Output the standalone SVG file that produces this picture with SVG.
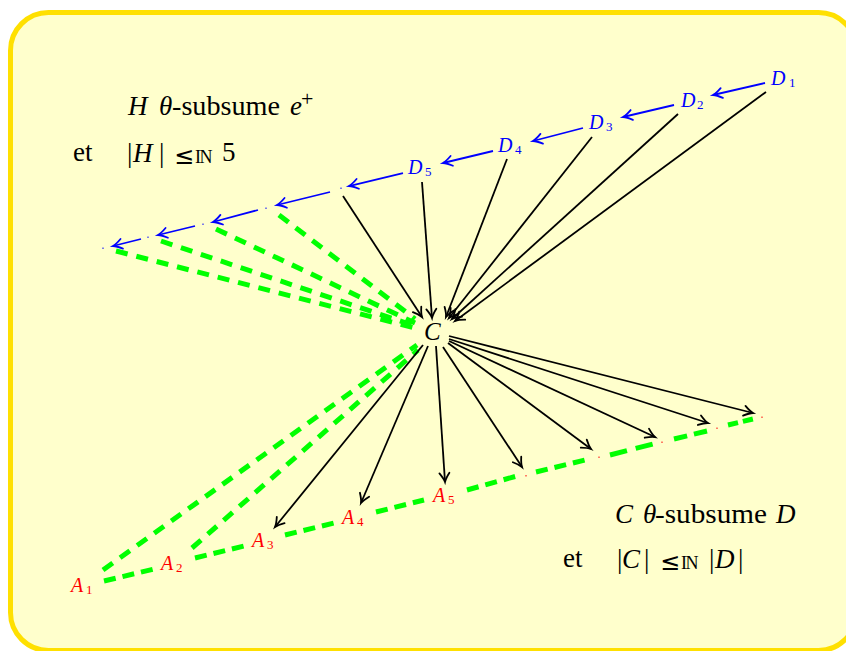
<svg xmlns="http://www.w3.org/2000/svg" width="846" height="651" viewBox="0 0 846 651">
<style>
.t{font-family:"Liberation Serif","DejaVu Serif",serif;fill:#000}
.i{font-style:italic}
.big{font-size:27px}
.le{font-family:"Noto Sans","DejaVu Sans",sans-serif;font-size:24px}
.nn{font-family:"Liberation Serif","DejaVu Serif",serif;font-size:18px;letter-spacing:-1.5px}
.blue{fill:#0000ff}
.red{fill:#ff0000}
.lbl{font-size:20px}
.sub{font-size:13px;font-style:normal}
.ar{fill:none;stroke-width:1.8}
.bk{stroke:#000;marker-end:url(#ak)}
.bl{stroke:#0000ff;marker-end:url(#ab)}
.gr{fill:none;stroke:#00ff00;stroke-width:5}
.ch{stroke-dasharray:12 7}
.lg{stroke-dasharray:12 9}
</style>
<defs>
<marker id="ak" markerUnits="userSpaceOnUse" orient="auto" refX="0" refY="0" markerWidth="20" markerHeight="20" viewBox="-10 -10 20 20" overflow="visible">
<path d="M-9,-5 Q-3.5,-1 0,0 Q-3.5,1 -9,5" fill="none" stroke="#000" stroke-width="1.8" stroke-linecap="round"/>
</marker>
<marker id="ab" markerUnits="userSpaceOnUse" orient="auto" refX="0" refY="0" markerWidth="20" markerHeight="20" viewBox="-10 -10 20 20" overflow="visible">
<path d="M-9,-5 Q-3.5,-1 0,0 Q-3.5,1 -9,5" fill="none" stroke="#0000ff" stroke-width="1.8" stroke-linecap="round"/>
</marker>
</defs>
<rect x="10.5" y="12.5" width="846" height="638" rx="38" ry="38" fill="#ffffcc" stroke="#ffe000" stroke-width="5"/>

<g id="connectors">
<!-- blue chain -->
<line class="ar bl" x1="765" y1="83" x2="713" y2="95"/>
<line class="ar bl" x1="674" y1="105" x2="623" y2="117"/>
<line class="ar bl" x1="583" y1="128" x2="533" y2="141"/>
<line class="ar bl" x1="493" y1="151" x2="443" y2="163"/>
<line class="ar bl" x1="403" y1="173" x2="349" y2="186"/>
<line class="ar bl" x1="330" y1="192" x2="277" y2="205"/>
<line class="ar bl" x1="258" y1="210" x2="213" y2="222"/>
<line class="ar bl" x1="195" y1="226" x2="158" y2="235"/>
<line class="ar bl" x1="141" y1="239" x2="113" y2="246"/>
<!-- black arrows into C -->
<line class="ar bk" x1="343" y1="196" x2="422" y2="317"/>
<line class="ar bk" x1="422" y1="182" x2="432" y2="318"/>
<line class="ar bk" x1="507" y1="159" x2="446" y2="317"/>
<line class="ar bk" x1="592" y1="137" x2="449" y2="318"/>
<line class="ar bk" x1="678" y1="114" x2="452" y2="319"/>
<line class="ar bk" x1="766" y1="92" x2="455" y2="321"/>
<!-- green dashed into C from top-left points -->
<line class="gr lg" x1="279" y1="215" x2="415" y2="319"/>
<line class="gr lg" x1="216" y1="229" x2="415" y2="323"/>
<line class="gr lg" x1="161" y1="241" x2="415" y2="326"/>
<line class="gr lg" x1="116" y1="251" x2="415" y2="328"/>
<!-- green dashed from A1, A2 to C -->
<line class="gr lg" x1="103" y1="570" x2="417" y2="345"/>
<line class="gr lg" x1="192" y1="548" x2="418" y2="350"/>
<!-- black arrows out of C -->
<line class="ar bk" x1="423" y1="345" x2="275" y2="527"/>
<line class="ar bk" x1="428" y1="346" x2="361" y2="503"/>
<line class="ar bk" x1="436" y1="346" x2="445" y2="482"/>
<line class="ar bk" x1="443" y1="347" x2="522" y2="467"/>
<line class="ar bk" x1="448" y1="343" x2="591" y2="449"/>
<line class="ar bk" x1="449" y1="341" x2="655" y2="437"/>
<line class="ar bk" x1="449" y1="339" x2="708" y2="423"/>
<line class="ar bk" x1="449" y1="336" x2="753" y2="413"/>
<!-- green dashed chain at bottom -->
<line class="gr ch" x1="104" y1="581" x2="154" y2="569"/>
<line class="gr ch" x1="195" y1="558" x2="244" y2="546"/>
<line class="gr ch" x1="285" y1="535" x2="334" y2="523"/>
<line class="gr ch" x1="376" y1="512" x2="424" y2="500"/>
<line class="gr ch" x1="467" y1="490" x2="517" y2="476"/>
<line class="gr ch" x1="536" y1="472" x2="589" y2="459"/>
<line class="gr" stroke-dasharray="17.5 9" x1="610" y1="455" x2="653" y2="444"/>
<line class="gr" stroke-dasharray="13.5 7" x1="674" y1="439" x2="707" y2="431"/>
<line class="gr" stroke-dasharray="10.3 5" x1="728" y1="425" x2="753" y2="419"/>
</g>

<g id="D1"><text class="t i blue lbl" x="771" y="85">D</text><text class="t blue sub" x="789" y="87">1</text></g>
<g id="D2"><text class="t i blue lbl" x="681" y="107">D</text><text class="t blue sub" x="697" y="109">2</text></g>
<g id="D3"><text class="t i blue lbl" x="589" y="129">D</text><text class="t blue sub" x="606" y="131">3</text></g>
<g id="D4"><text class="t i blue lbl" x="498" y="152">D</text><text class="t blue sub" x="515" y="154">4</text></g>
<g id="D5"><text class="t i blue lbl" x="408" y="174">D</text><text class="t blue sub" x="425" y="176">5</text></g>
<g id="P6"><rect x="340.5" y="187.5" width="1" height="1.5" fill="#0000ff"/></g>
<g id="P7"><rect x="265.5" y="207.5" width="1" height="1.5" fill="#0000ff"/></g>
<g id="P8"><rect x="202.5" y="223.5" width="1" height="1.5" fill="#0000ff"/></g>
<g id="P9"><rect x="147.5" y="236.5" width="1" height="1.5" fill="#0000ff"/></g>
<g id="P10"><rect x="102.5" y="247.5" width="1" height="1.5" fill="#0000ff"/></g>

<g id="C"><text class="t i" x="424" y="340" font-size="25" fill="#222">C</text></g>

<g id="A1"><text class="t i red lbl" x="71" y="592">A</text><text class="t red sub" x="86" y="594">1</text></g>
<g id="A2"><text class="t i red lbl" x="161" y="570">A</text><text class="t red sub" x="176" y="572">2</text></g>
<g id="A3"><text class="t i red lbl" x="252" y="547">A</text><text class="t red sub" x="267" y="549">3</text></g>
<g id="A4"><text class="t i red lbl" x="342" y="524">A</text><text class="t red sub" x="357" y="526">4</text></g>
<g id="A5"><text class="t i red lbl" x="433" y="502">A</text><text class="t red sub" x="448" y="504">5</text></g>
<g id="Q1"><rect x="525.5" y="475" width="1" height="1.5" fill="#ff0000"/></g>
<g id="Q2"><rect x="598.5" y="456.5" width="1" height="1.5" fill="#ff0000"/></g>
<g id="Q3"><rect x="661.5" y="441.5" width="1" height="1.5" fill="#ff0000"/></g>
<g id="Q4"><rect x="716.5" y="427.5" width="1" height="1.5" fill="#ff0000"/></g>
<g id="Q5"><rect x="761.5" y="416.5" width="1" height="1.5" fill="#ff0000"/></g>

<g id="text-H">
<text class="t big" y="115"><tspan class="i" x="128">H</tspan><tspan class="i" x="159">θ</tspan><tspan x="172" textLength="108" lengthAdjust="spacingAndGlyphs">-subsume</tspan><tspan class="i" x="290">e</tspan></text>
<text class="t" x="301" y="106" font-size="22">+</text>
<text class="t big" x="73" y="161">et</text>
<text class="t big" y="162" font-size="29"><tspan x="127">|</tspan><tspan class="i" x="133" font-size="27">H</tspan><tspan x="159">|</tspan><tspan class="le" x="174" y="164">≤</tspan><tspan class="nn" x="195" y="163">IN</tspan><tspan x="222" y="161" font-size="27">5</tspan></text>
</g>

<g id="text-C">
<text class="t big" y="523"><tspan class="i" x="615">C</tspan><tspan class="i" x="643">θ</tspan><tspan x="655" textLength="112" lengthAdjust="spacingAndGlyphs">-subsume</tspan><tspan class="i" x="776">D</tspan></text>
<text class="t big" x="563" y="567">et</text>
<text class="t big" y="568" font-size="29"><tspan x="617">|</tspan><tspan class="i" x="622" font-size="27">C</tspan><tspan x="644">|</tspan><tspan class="le" x="660" y="570">≤</tspan><tspan class="nn" x="681" y="569">IN</tspan><tspan x="709" y="568">|</tspan><tspan class="i" x="715" font-size="27">D</tspan><tspan x="738">|</tspan></text>
</g>
</svg>
